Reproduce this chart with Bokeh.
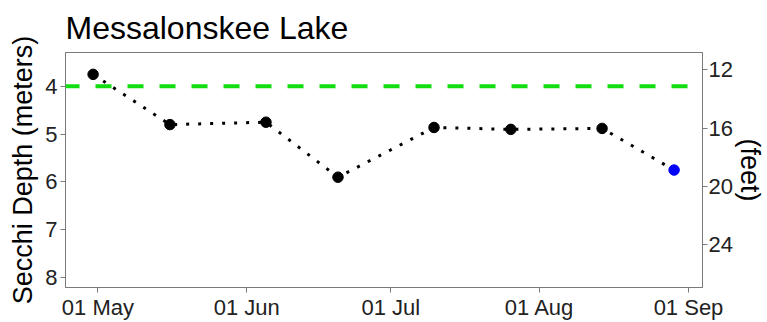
import pandas as pd
from bokeh.plotting import figure
from bokeh.models import (Range1d, LinearAxis, FixedTicker, DatetimeTickFormatter, Span,
                          ColumnDataSource)
from bokeh.embed import file_html
from bokeh.resources import INLINE

# ---- data ----
dates = ["2023-04-30", "2023-05-16", "2023-06-05", "2023-06-20",
         "2023-07-10", "2023-07-26", "2023-08-14", "2023-08-29"]
depth_m = [3.75, 4.80, 4.75, 5.90, 4.86, 4.90, 4.88, 5.75]
reference_depth = 4.0
x_tick_dates = ["2023-05-01", "2023-06-01", "2023-07-01", "2023-08-01", "2023-09-01"]
y_ticks_m = [4, 5, 6, 7, 8]
y_ticks_ft = [12, 16, 20, 24]
title_text = "Messalonskee Lake"
y_label = "Secchi Depth (meters)"
y2_label = "(feet)"

M_TO_FT = 3.28084
dt = pd.to_datetime(dates)
x_ticks = [pd.Timestamp(d).value / 1e6 for d in x_tick_dates]

x_start = pd.Timestamp("2023-04-24 06:00")
x_end = pd.Timestamp("2023-09-03 22:00")
y_top, y_bot = 3.293, 8.206

FONT = "Liberation Sans"
GRAY = "#7a7a7a"

p = figure(width=767, height=322, x_axis_type="datetime",
           output_backend="svg", toolbar_location=None,
           x_range=Range1d(x_start, x_end), y_range=Range1d(y_bot, y_top),
           min_border_left=65, min_border_right=60, min_border_top=52,
           min_border_bottom=34)

p.title.text = title_text
p.title.text_font = FONT
p.title.text_font_size = "32px"
p.title.text_font_style = "normal"
p.title.text_color = "black"
p.title.offset = 0
p.title.standoff = 13

p.xgrid.visible = False
p.ygrid.visible = False
p.outline_line_color = GRAY
p.outline_line_width = 1

p.extra_y_ranges = {"feet": Range1d(y_bot * M_TO_FT, y_top * M_TO_FT)}
right = LinearAxis(y_range_name="feet", axis_label=y2_label)
p.add_layout(right, "right")

# axes styling
p.xaxis.ticker = FixedTicker(ticks=x_ticks)
p.xaxis.formatter = DatetimeTickFormatter(days="%d %b", months="%d %b", years="%d %b",
                                          hours="%d %b", minutes="%d %b")
p.yaxis[0].ticker = FixedTicker(ticks=y_ticks_m)
p.yaxis[0].axis_label = y_label
right.ticker = FixedTicker(ticks=y_ticks_ft)

for ax in [p.xaxis[0], p.yaxis[0], right]:
    ax.axis_line_color = GRAY
    ax.major_tick_line_color = GRAY
    ax.major_tick_out = 5
    ax.major_tick_in = 0
    ax.minor_tick_out = 0
    ax.minor_tick_in = 0
    ax.major_label_text_font = FONT
    ax.major_label_text_font_size = "22px"
    ax.major_label_text_color = "#222222"
    ax.major_label_standoff = 3
    ax.axis_label_text_font = FONT
    ax.axis_label_text_font_size = "27px"
    ax.axis_label_text_font_style = "normal"
    ax.axis_label_text_color = "black"
    ax.axis_label_standoff = 4

p.xaxis[0].major_label_standoff = 2
right.major_label_standoff = 1
right.axis_label_standoff = -1

# reference line
p.add_layout(Span(location=reference_depth, dimension="width", line_color="#11dd11",
                  line_width=4, line_dash="16 16", line_dash_offset=2))

src = ColumnDataSource(dict(x=dt, y=depth_m))
p.line("x", "y", source=src, line_color="black", line_width=3, line_dash="3 9")

colors = ["black"] * (len(depth_m) - 1) + ["blue"]
src_pts = ColumnDataSource(dict(x=dt, y=depth_m, c=colors))
p.scatter("x", "y", source=src_pts, size=10.5, fill_color="c", line_color="c")

open("out.html", "w").write(file_html(p, INLINE))
